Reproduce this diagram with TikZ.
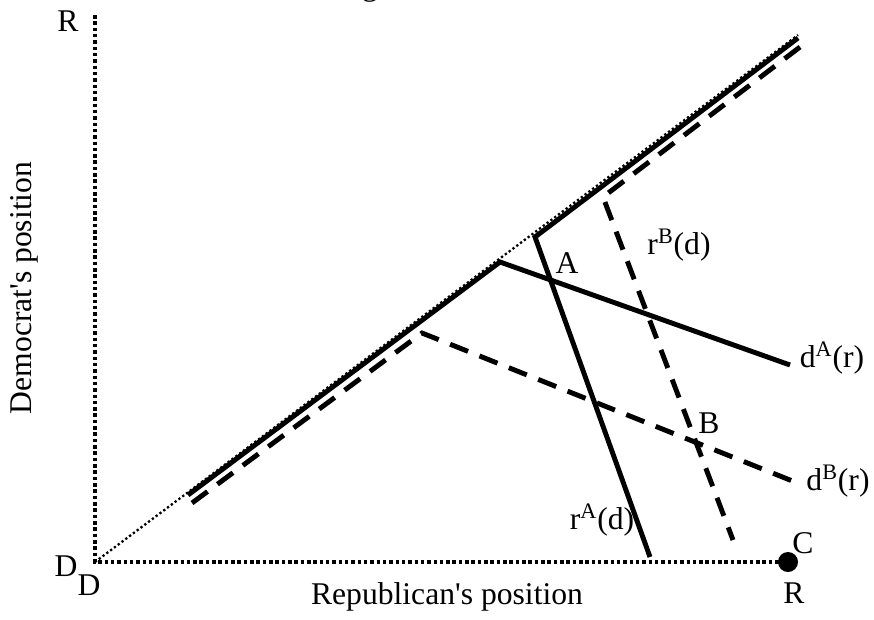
\documentclass[tikz,border=0pt]{standalone}
\usepackage{fontspec}
\setmainfont{Liberation Serif}

\begin{document}
\begin{tikzpicture}[x=0.02cm, y=-0.02cm,
  every node/.style={font=\fontsize{18}{21}\selectfont, inner sep=0pt},
  axisline/.style={line width=2pt, dash pattern=on 2pt off 1.6pt},
  diagline/.style={line width=1.3pt, dash pattern=on 1.3pt off 1.4pt},
  respA/.style={line width=2.8pt},
  respB/.style={line width=2.8pt, dash pattern=on 11pt off 7pt}]
  \useasboundingbox (0,0) rectangle (874,619);

  % Define the axis corners
  \coordinate (O) at (95,562);
  \coordinate (Ytop) at (95,15);
  \coordinate (Xend) at (788,562);
  \coordinate (Dtop) at (798,35);

  % Draw the axes and the diagonal
  \draw[axisline] (Ytop) -- (O) -- (Xend);
  \draw[diagline] (O) -- (Dtop);

  % Reaction curves of case A (solid)
  \coordinate (dAs) at (188,495);
  \coordinate (dAk) at (500,262);
  \coordinate (dAe) at (790,365);
  \coordinate (rAs) at (798,38);
  \coordinate (rAk) at (535,237);
  \coordinate (rAe) at (650,557);
  \draw[respA] (dAs) -- (dAk) -- (dAe);
  \draw[respA] (rAs) -- (rAk) -- (rAe);

  % Reaction curves of case B (dashed)
  \coordinate (dBs) at (192,503);
  \coordinate (dBk) at (422,333);
  \coordinate (dBe) at (795,482);
  \coordinate (rBs) at (800,47);
  \coordinate (rBk) at (603,197);
  \coordinate (rBe) at (733,540);
  \draw[respB] (dBs) -- (dBk) -- (dBe);
  \draw[respB] (rBs) -- (rBk) -- (rBe);

  % Point C as a filled circle
  \fill (Xend) circle (10);

  % Labels
  \node (title) [anchor=base] at (370,-5) {g};
  \node (Rtop) at (68,21) {R};
  \node (Dleft) at (66,566) {D};
  \node (Dlow) at (89,585) {D};
  \node (Rlow) at (794,593) {R};
  \node (Clab) at (803,543) {C};
  \node (Alab) at (567,263) {A};
  \node (Blab) at (709,423) {B};
  \node (rBlab) at (679,245) {r\textsuperscript{B}(d)};
  \node (dAlab) at (832,358) {d\textsuperscript{A}(r)};
  \node (dBlab) at (838,481) {d\textsuperscript{B}(r)};
  \node (rAlab) at (602,520) {r\textsuperscript{A}(d)};
  \node (xlab) at (447,597) {Republican\textquotesingle s position};
  \node (ylab) [rotate=90] at (24,288) {Democrat\textquotesingle s position};
\end{tikzpicture}
\end{document}
